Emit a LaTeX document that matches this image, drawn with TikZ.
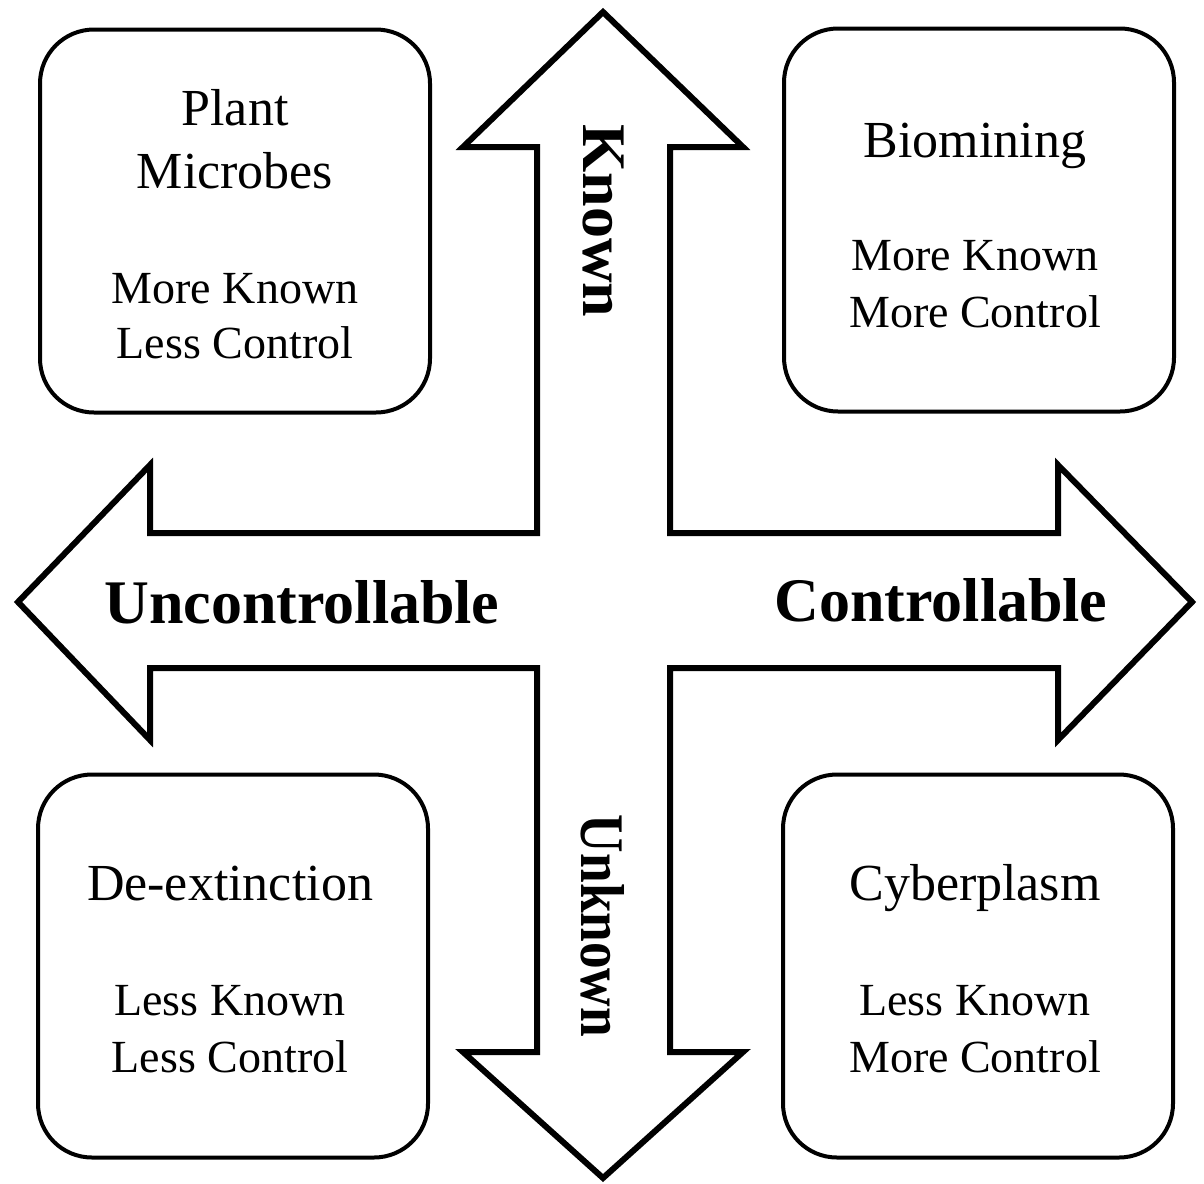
\documentclass[tikz,border=0pt]{standalone}
\usepackage{fontspec}
\setmainfont{Liberation Serif}
\usetikzlibrary{positioning}

\begin{document}
\begin{tikzpicture}[x=0.5pt, y=-0.5pt,
      quad/.style={draw, line width=2pt, rounded corners=27pt,
        minimum width=195pt, minimum height=191.5pt, inner sep=0pt},
      ttl/.style={anchor=base, font=\fontsize{26}{31}\selectfont},
      sub/.style={anchor=base, font=\fontsize{23}{28}\selectfont},
      axislbl/.style={font=\fontsize{31}{36}\selectfont\bfseries}]
    \useasboundingbox (0,0) rectangle (1204,1183);
    % cross of arrows
    \draw[line width=3pt, line join=miter]
      (603,12) -- (743,147) -- (670,147) -- (670,533) -- (1058,533)
      -- (1058,465) -- (1192,602) -- (1058,740) -- (1058,668) -- (670,668)
      -- (670,1052) -- (743,1052) -- (603,1178) -- (463,1052) -- (537,1052)
      -- (537,668) -- (150,668) -- (150,740) -- (18,602) -- (150,465)
      -- (150,533) -- (537,533) -- (537,147) -- (463,147) -- cycle;
    \node[axislbl, rotate=-90] (known) at (603,221) {Known};
    \node[axislbl, rotate=-90] (unknown) at (603,926) {\scalebox{0.86}[1]{Unknown}};
    \node[axislbl, anchor=base] (unctrl) at (302,623) {Uncontrollable};
    \node[axislbl, anchor=base] (ctrl) at (941,621) {Controllable};
    % plant microbes
    \node[quad] (pm) at (235,221) {};
    \node[ttl] (pmA) at (235,125) {Plant};
    \node[ttl] (pmB) at (235,188) {Microbes};
    \node[sub] (pmC) at (235,303) {More Known};
    \node[sub] (pmD) at (235,358) {Less Control};
    % biomining
    \node[quad] (bm) at (979,220) {};
    \node[ttl] (bmA) at (975,157) {Biomining};
    \node[sub] (bmB) at (975,270) {More Known};
    \node[sub] (bmC) at (975,327) {More Control};
    % de-extinction
    \node[quad] (dx) at (233,966) {};
    \node[ttl] (dxA) at (230,900) {De-extinction};
    \node[sub] (dxB) at (230,1015) {Less Known};
    \node[sub] (dxC) at (230,1072) {Less Control};
    % cyberplasm
    \node[quad] (cp) at (978,966) {};
    \node[ttl] (cpA) at (975,900) {Cyberplasm};
    \node[sub] (cpB) at (975,1015) {Less Known};
    \node[sub] (cpC) at (975,1072) {More Control};
  \end{tikzpicture}
\end{document}
